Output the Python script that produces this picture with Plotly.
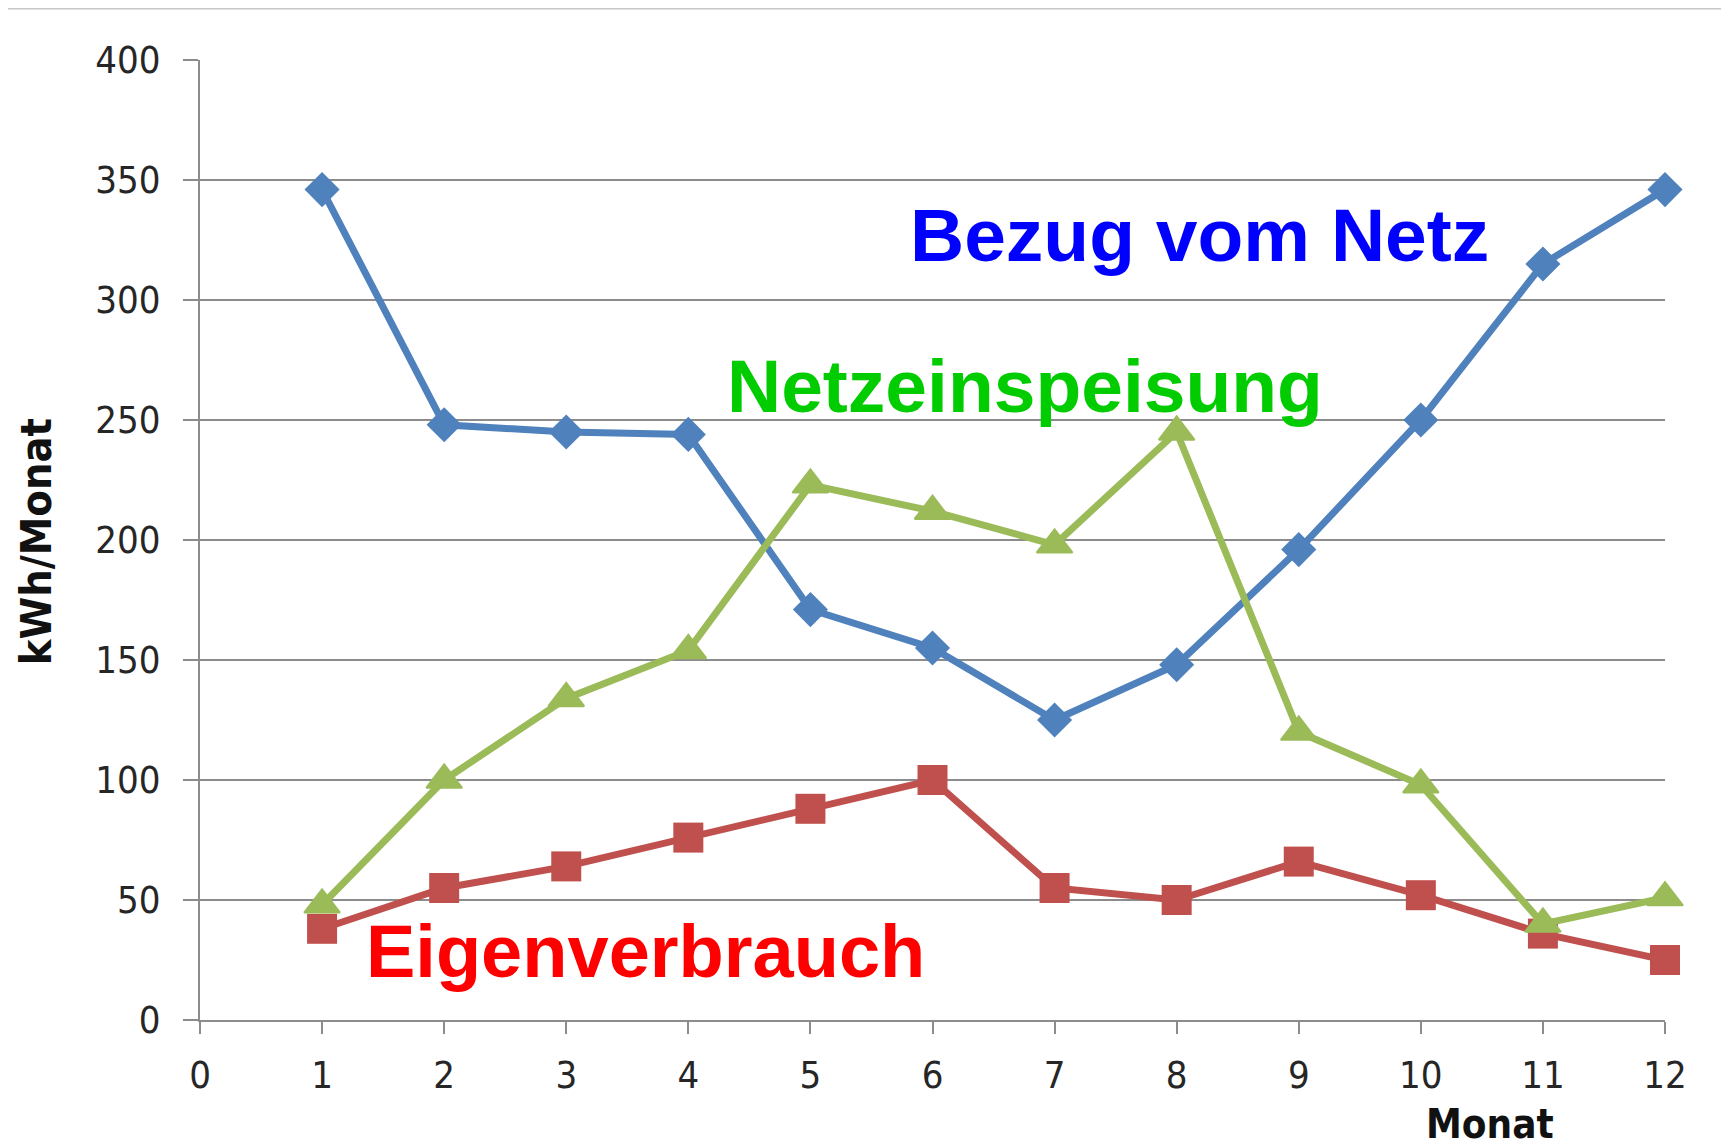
import plotly.graph_objects as go

months = [1, 2, 3, 4, 5, 6, 7, 8, 9, 10, 11, 12]
bezug_vom_netz = [346, 248, 245, 244, 171, 155, 125, 148, 196, 250, 315, 346]
netzeinspeisung = [48, 100, 134, 154, 223, 212, 198, 245, 120, 98, 40, 51]
eigenverbrauch = [38, 55, 64, 76, 88, 100, 55, 50, 66, 52, 36, 25]
x_ticks = list(range(0, 13))
y_ticks = [0, 50, 100, 150, 200, 250, 300, 350, 400]

TICK_FONT = "DejaVu Sans Condensed, Liberation Sans Narrow, DejaVu Sans, sans-serif"
LABEL_FONT = "Liberation Sans, Arial, sans-serif"
GRID = "#8c8c8c"

fig = go.Figure()
fig.add_trace(go.Scatter(
    x=months, y=bezug_vom_netz, mode="lines+markers", name="Bezug vom Netz",
    line=dict(color="#4F81BD", width=7),
    marker=dict(symbol="diamond", size=27, color="#4F81BD"),
    cliponaxis=False))
fig.add_trace(go.Scatter(
    x=months, y=eigenverbrauch, mode="lines+markers", name="Eigenverbrauch",
    line=dict(color="#C0504D", width=7),
    marker=dict(symbol="square", size=30, color="#C0504D"),
    cliponaxis=False))
fig.add_trace(go.Scatter(
    x=months, y=netzeinspeisung, mode="lines+markers", name="Netzeinspeisung",
    line=dict(color="#9BBB59", width=7),
    marker=dict(symbol="triangle-up", size=31, color="#9BBB59",
                line=dict(color="#9BBB59", width=2)),
    cliponaxis=False))

# the page body adds an 8px offset, so the figure is 8px smaller than the window
fig.update_layout(
    width=1721, height=1139,
    margin=dict(l=192, r=64, t=52, b=127),
    paper_bgcolor="white", plot_bgcolor="white",
    showlegend=False,
    xaxis=dict(
        range=[0, 12], tickmode="array", tickvals=x_ticks,
        ticktext=[str(v) for v in x_ticks],
        showgrid=False, zeroline=False,
        showline=True, linecolor=GRID, linewidth=2,
        ticks="outside", ticklen=12, tickwidth=1.5, tickcolor=GRID,
        tickfont=dict(family=TICK_FONT, size=38, color="#262626"),
        ticklabelstandoff=8,
    ),
    yaxis=dict(
        range=[0, 400], tickmode="array", tickvals=y_ticks,
        ticktext=[str(v) for v in y_ticks],
        showgrid=True, gridcolor=GRID, gridwidth=2, zeroline=False,
        showline=True, linecolor=GRID, linewidth=2,
        ticks="outside", ticklen=15, tickwidth=2, tickcolor=GRID,
        tickfont=dict(family=TICK_FONT, size=38, color="#262626"),
        ticklabelstandoff=15,
    ),
    annotations=[
        dict(text="<b>Bezug vom Netz</b>", x=5.80, y=327, xref="x", yref="y",
             xanchor="left", yanchor="middle", showarrow=False,
             font=dict(family=LABEL_FONT, size=75, color="#0000FF")),
        dict(text="<b>Netzeinspeisung</b>", x=4.30, y=264, xref="x", yref="y",
             xanchor="left", yanchor="middle", showarrow=False,
             font=dict(family=LABEL_FONT, size=75, color="#00CC00")),
        dict(text="<b>Eigenverbrauch</b>", x=1.34, y=28.6, xref="x", yref="y",
             xanchor="left", yanchor="middle", showarrow=False,
             font=dict(family=LABEL_FONT, size=74, color="#FF0000")),
        dict(text="<b>kWh/Monat</b>", x=-0.1117, y=0.498, xref="paper", yref="paper",
             xanchor="center", yanchor="middle", textangle=-90, showarrow=False,
             font=dict(family=TICK_FONT, size=43, color="#111111")),
        dict(text="<b>Monat</b>", x=0.8808, y=-0.1083, xref="paper", yref="paper",
             xanchor="center", yanchor="middle", showarrow=False,
             font=dict(family=TICK_FONT, size=40, color="#111111")),
    ],
    shapes=[
        dict(type="line", xref="paper", yref="paper", x0=-0.2, x1=1.1,
             y0=1.0536, y1=1.0536, line=dict(color="#c8c8c8", width=2)),
    ],
)

fig.write_html("out.html")
